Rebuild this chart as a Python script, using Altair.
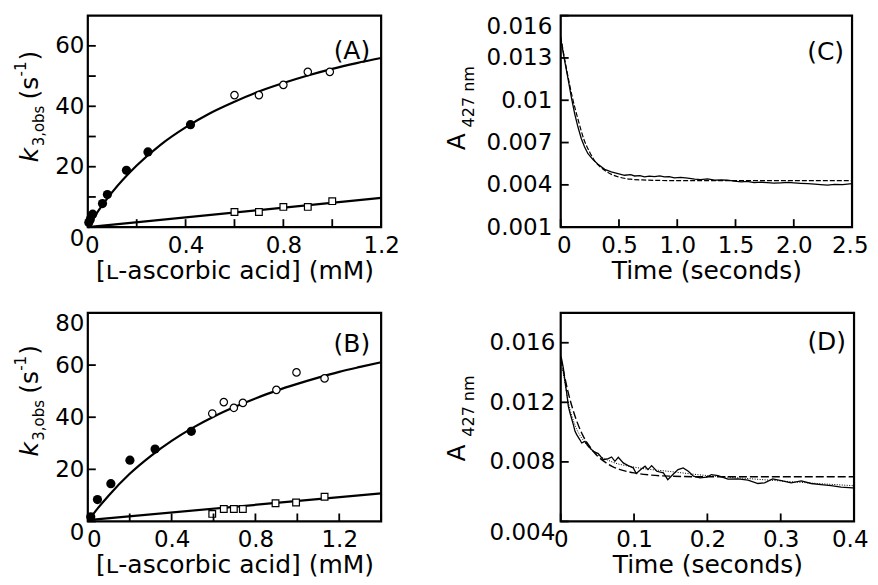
import altair as alt
import pandas as pd

FONT = "DejaVu Sans"

# ---------------- Panel A ----------------
a_filled_x = [0.004, 0.01, 0.02, 0.06, 0.08, 0.158, 0.246, 0.42]
a_filled_y = [1.5, 2.5, 4.3, 7.8, 10.8, 18.8, 24.9, 33.9]
a_open_x = [0.60, 0.70, 0.80, 0.90, 0.99]
a_open_y = [43.7, 43.7, 47.1, 51.4, 51.4]
a_sq_x = [0.60, 0.70, 0.80, 0.90, 1.00]
a_sq_y = [5.0, 5.0, 6.7, 6.7, 8.6]
a_fit_x = [0, 0.05, 0.1, 0.2, 0.3, 0.4, 0.5, 0.6, 0.7, 0.8, 0.9, 1.0, 1.1, 1.2]
a_fit_y = [0, 6.2, 11.6, 20.4, 27.4, 33.0, 37.7, 41.5, 44.9, 47.7, 50.2, 52.4, 54.3, 56.0]
a_line_x = [0, 1.2]
a_line_y = [0, 9.7]
a_xticks = [0, 0.2, 0.4, 0.6, 0.8, 1.0, 1.2]
a_yticks = [0, 10, 20, 30, 40, 50, 60]

# ---------------- Panel B ----------------
b_filled_x = [0.014, 0.046, 0.110, 0.201, 0.321, 0.494]
b_filled_y = [1.8, 8.4, 14.5, 23.5, 27.8, 34.6]
b_open_x = [0.594, 0.649, 0.697, 0.74, 0.90, 0.996, 1.13]
b_open_y = [41.4, 45.8, 43.6, 45.5, 50.5, 57.2, 54.9]
b_sq_x = [0.594, 0.649, 0.697, 0.74, 0.896, 0.994, 1.13]
b_sq_y = [2.9, 4.8, 4.8, 4.8, 7.0, 7.3, 9.5]
b_fit_x = [0, 0.05, 0.1, 0.2, 0.3, 0.4, 0.5, 0.6, 0.7, 0.8, 0.9, 1.0, 1.1, 1.2, 1.3, 1.4]
b_fit_y = [0, 5.3, 10.0, 18.3, 25.1, 30.9, 35.9, 40.2, 43.9, 47.2, 50.2, 52.8, 55.2, 57.4, 59.3, 61.1]
b_line_x = [0, 1.4]
b_line_y = [0.5, 10.8]
b_xticks = [0, 0.2, 0.4, 0.6, 0.8, 1.0, 1.2, 1.4]
b_yticks = [0, 20, 40, 60, 80]

# ---------------- Panel C ----------------
c_t = [0, 0.034, 0.063, 0.091, 0.12, 0.148, 0.177, 0.205, 0.234, 0.277, 0.32, 0.377,
       0.434, 0.491, 0.548, 0.60, 0.634, 0.68, 0.719, 0.76, 0.805, 0.85, 0.89, 0.93,
       0.976, 1.03, 1.09, 1.15, 1.2, 1.26, 1.32, 1.38, 1.43, 1.49, 1.55, 1.6, 1.66,
       1.72, 1.77, 1.83, 1.89, 1.95, 2.0, 2.06, 2.12, 2.18, 2.23, 2.29, 2.35, 2.42, 2.5]
c_obs = [0.01435, 0.0128, 0.01152, 0.01022, 0.00904, 0.0081, 0.00727, 0.00668, 0.00621,
         0.00579, 0.00546, 0.0051, 0.00492, 0.0048, 0.00468, 0.00472, 0.00463, 0.00466,
         0.00456, 0.00462, 0.00458, 0.00463, 0.00456, 0.00459, 0.00449, 0.00453, 0.00447,
         0.00441, 0.00437, 0.00442, 0.00433, 0.00436, 0.00433, 0.00426, 0.00421, 0.00424,
         0.00416, 0.00419, 0.00416, 0.00412, 0.00414, 0.00417, 0.00414, 0.00411, 0.00409,
         0.00405, 0.00402, 0.00398, 0.00404, 0.00401, 0.00409]
c_fit_t = [0, 0.05, 0.1, 0.15, 0.2, 0.25, 0.3, 0.35, 0.4, 0.5, 0.6, 0.7, 0.8, 1.0, 1.25, 1.5, 2.0, 2.5]
c_fit = [0.0145, 0.0122, 0.0102, 0.0086, 0.0072, 0.0063, 0.0056, 0.0052, 0.0049, 0.00455,
         0.0044, 0.00435, 0.00432, 0.0043, 0.0043, 0.0043, 0.0043, 0.0043]
c_xticks = [0, 0.5, 1.0, 1.5, 2.0, 2.5]
c_yticks = [0.001, 0.004, 0.007, 0.01, 0.013, 0.016]

# ---------------- Panel D ----------------
d_t = [0, 0.001, 0.0036, 0.0059, 0.0082, 0.0104, 0.0127, 0.0172, 0.0195, 0.0218, 0.026,
       0.0286, 0.033, 0.0376, 0.0444, 0.0512, 0.058, 0.0649, 0.0694, 0.0739, 0.0785,
       0.0853, 0.092, 0.0989, 0.103, 0.11, 0.115, 0.119, 0.124, 0.131, 0.14, 0.146, 0.153,
       0.16, 0.167, 0.174, 0.181, 0.19, 0.199, 0.2054, 0.2145, 0.228, 0.2418, 0.2554,
       0.269, 0.278, 0.289, 0.3007, 0.3143, 0.328, 0.3415, 0.355, 0.3687, 0.3823, 0.398, 0.4]
d_obs = [0.0151, 0.01496, 0.01429, 0.0134, 0.01262, 0.01173, 0.01128, 0.0105, 0.01005,
         0.00983, 0.0095, 0.00927, 0.00938, 0.00905, 0.00871, 0.00856, 0.00815, 0.00822,
         0.00833, 0.00804, 0.00831, 0.00793, 0.00775, 0.0076, 0.00722, 0.00753, 0.00771,
         0.00748, 0.00775, 0.00737, 0.00726, 0.00681, 0.00715, 0.00748, 0.0076, 0.00737,
         0.00704, 0.00693, 0.00697, 0.00715, 0.00708, 0.00685, 0.00686, 0.00677, 0.00655,
         0.00659, 0.00686, 0.00675, 0.00659, 0.00673, 0.00655, 0.00648, 0.00641, 0.0063,
         0.00626, 0.00624]
d_dot_t = [0, 0.005, 0.01, 0.02, 0.03, 0.04, 0.05, 0.07, 0.1, 0.15, 0.2, 0.25, 0.3, 0.35, 0.4]
d_dot = [0.0150, 0.0135, 0.0121, 0.0104, 0.0095, 0.0089, 0.0085, 0.0080, 0.00765, 0.00735,
         0.00708, 0.0069, 0.00672, 0.00655, 0.0064]
d_dash_t = [0, 0.005, 0.01, 0.02, 0.03, 0.04, 0.05, 0.06, 0.07, 0.08, 0.1, 0.12, 0.15, 0.2, 0.3, 0.4]
d_dash = [0.0150, 0.0138, 0.0127, 0.0110, 0.0098, 0.0090, 0.0084, 0.0080, 0.0077, 0.0075,
          0.00726, 0.00713, 0.00704, 0.0070, 0.0070, 0.0070]
d_xticks = [0, 0.1, 0.2, 0.3, 0.4]
d_yticks = [0.004, 0.008, 0.012, 0.016]

TICK = 8


def df(x, y):
    return pd.DataFrame({"x": x, "y": y})


def enc(xdom, ydom, xaxis, yaxis):
    return dict(
        x=alt.X("x:Q", scale=alt.Scale(domain=xdom, nice=False, zero=False), axis=xaxis),
        y=alt.Y("y:Q", scale=alt.Scale(domain=ydom, nice=False, zero=False), axis=yaxis),
    )


def tick_layers(xt, yt, xdom, ydom, xaxis, yaxis, h):
    xs = alt.Scale(domain=xdom, nice=False, zero=False)
    ys = alt.Scale(domain=ydom, nice=False, zero=False)
    xr = alt.Chart(pd.DataFrame({"x": xt})).mark_rule(color="black", strokeWidth=1.8).encode(
        x=alt.X("x:Q", scale=xs, axis=xaxis), y=alt.value(h - TICK), y2=alt.value(h))
    yr = alt.Chart(pd.DataFrame({"y": yt})).mark_rule(color="black", strokeWidth=1.8).encode(
        y=alt.Y("y:Q", scale=ys, axis=yaxis), x=alt.value(0), x2=alt.value(TICK))
    return [xr, yr]


ONE = alt.Data(values=[{"a": 1}])


def txt(s, x, y, size, italic=False, angle=270, align="left", baseline="alphabetic"):
    return alt.Chart(ONE).mark_text(
        text=s, font=FONT, fontSize=size, fontStyle="italic" if italic else "normal",
        angle=angle, align=align, baseline=baseline, color="black"
    ).encode(x=alt.value(x), y=alt.value(y))


def k_title(dy):
    return [
        txt("k", -50, 147 + dy, 25, italic=True),
        txt("3,obs", -44, 131 + dy, 15),
        txt("(s", -50, 84 + dy, 25),
        txt("-1", -62, 61 + dy, 15),
        txt(")", -50, 45 + dy, 25),
    ]


def a_title(y0, y1):
    return [
        txt("A", -96, y0, 25),
        txt("427 nm", -87, y1, 16),
    ]


def kin_panel(w, h, xdom, ydom, xaxis, yaxis, xt, yt, fx, fy, ox, oy, sqx, sqy, cx, cy, lx, ly,
              label, ly_lab, dy):
    e = enc(xdom, ydom, xaxis, yaxis)
    base = [
        alt.Chart(df(cx, cy)).mark_line(color="black", strokeWidth=2.2, interpolate="monotone").encode(**e),
        alt.Chart(df(lx, ly)).mark_line(color="black", strokeWidth=2.2).encode(**e),
        alt.Chart(df(fx, fy)).mark_circle(size=85, color="black", opacity=1).encode(**e),
        alt.Chart(df(ox, oy)).mark_point(shape="circle", size=55, filled=True, fill="white",
                                          stroke="black", strokeWidth=1.2, opacity=1).encode(**e),
        alt.Chart(df(sqx, sqy)).mark_point(shape="square", size=45, filled=True, fill="white",
                                            stroke="black", strokeWidth=1.2, opacity=1).encode(**e),
        txt(label, w - 11, ly_lab, 25, angle=0, align="right", baseline="middle"),
    ]
    base += tick_layers(xt, yt, xdom, ydom, xaxis, yaxis, h)
    return alt.layer(*(base + k_title(dy))).properties(width=w, height=h)


def cond(test, yes, no):
    return {"condition": {"test": test, "value": yes}, "value": no}


XT = "[ʟ-ascorbic acid] (mM)"

ax_a_x = alt.Axis(values=a_xticks, title=XT,
                  labelExpr="round(datum.value*5) % 2 == 0 ? format(datum.value, '~g') : ''",
                  labelOffset=cond("datum.value == 0", 4, 0))
ax_a_y = alt.Axis(values=a_yticks, title=None,
                  labelExpr="datum.value % 20 == 0 ? format(datum.value, 'd') : ''",
                  labelBaseline=cond("datum.value == 0", "top", "middle"))
ax_b_x = alt.Axis(values=b_xticks, title=XT,
                  labelExpr="(round(datum.value*5) % 2 == 0 && datum.value < 1.3) ? format(datum.value, '~g') : ''",
                  labelOffset=cond("datum.value == 0", 6, 0))
ax_b_y = alt.Axis(values=b_yticks, title=None,
                  labelExpr="format(datum.value, 'd')",
                  labelBaseline=cond("datum.value == 0 || datum.value == 80", "top", "middle"))

A = kin_panel(294, 212, [0, 1.2], [0, 70], ax_a_x, ax_a_y, a_xticks, a_yticks,
              a_filled_x, a_filled_y, a_open_x, a_open_y, a_sq_x, a_sq_y,
              a_fit_x, a_fit_y, a_line_x, a_line_y, "(A)", 35, 0)
B = kin_panel(294, 209, [0, 1.4], [0, 80], ax_b_x, ax_b_y, b_xticks, b_yticks,
              b_filled_x, b_filled_y, b_open_x, b_open_y, b_sq_x, b_sq_y,
              b_fit_x, b_fit_y, b_line_x, b_line_y, "(B)", 31, -3)

ax_c_x = alt.Axis(values=c_xticks, title="Time (seconds)",
                  labelExpr="datum.value == 0 ? '0' : format(datum.value, '.1f')",
                  labelAlign=cond("datum.value > 2.4", "right", "center"),
                  labelOffset={"condition": [{"test": "datum.value > 2.4", "value": 16},
                                             {"test": "datum.value == 0", "value": 3}], "value": 0})
ax_c_y = alt.Axis(values=c_yticks, title=None, labelPadding=9,
                  labelExpr="format(datum.value, '~g')",
                  labelBaseline=cond("datum.value > 0.0155", "top", "middle"))
ec = enc([0, 2.5], [0.001, 0.016], ax_c_x, ax_c_y)
C = alt.layer(
    alt.Chart(df(c_t, c_obs)).mark_line(color="black", strokeWidth=1.3).encode(**ec),
    alt.Chart(df(c_fit_t, c_fit)).mark_line(color="black", strokeWidth=1.2, strokeDash=[5, 2],
                                            interpolate="monotone").encode(**ec),
    txt("(C)", 292 - 8, 36, 25, angle=0, align="right", baseline="middle"),
    *tick_layers(c_xticks, c_yticks, [0, 2.5], [0.001, 0.016], ax_c_x, ax_c_y, 212),
    *a_title(135, 112),
).properties(width=292, height=212)

ax_d_x = alt.Axis(values=d_xticks, title="Time (seconds)",
                  labelExpr="format(datum.value, '~g')",
                  labelAlign=cond("datum.value > 0.39", "right", "center"),
                  labelOffset=cond("datum.value > 0.39", 14, 0))
ax_d_y = alt.Axis(values=d_yticks, title=None, labelPadding=6,
                  labelExpr="format(datum.value, '~g')",
                  labelBaseline=cond("datum.value < 0.0045", "top", "middle"))
ed = enc([0, 0.4], [0.004, 0.018], ax_d_x, ax_d_y)
D = alt.layer(
    alt.Chart(df(d_dash_t, d_dash)).mark_line(color="black", strokeWidth=1.4, strokeDash=[8, 3],
                                              interpolate="monotone").encode(**ed),
    alt.Chart(df(d_dot_t, d_dot)).mark_line(color="black", strokeWidth=1.0, strokeDash=[1, 1.5],
                                            interpolate="monotone").encode(**ed),
    alt.Chart(df(d_t, d_obs)).mark_line(color="black", strokeWidth=1.3).encode(**ed),
    txt("(D)", 294 - 8, 29, 25, angle=0, align="right", baseline="middle"),
    *tick_layers(d_xticks, d_yticks, [0, 0.4], [0.004, 0.018], ax_d_x, ax_d_y, 209),
    *a_title(149, 124),
).properties(width=294, height=209)

chart = alt.concat(A, C, B, D, columns=2, spacing={"row": 86, "column": 180}, bounds="flush").properties(
    padding={"left": 4, "top": 5, "right": 0, "bottom": 0}
).configure(font=FONT).configure_view(
    stroke="black", strokeWidth=2.2
).configure_axis(
    domain=False, grid=False, ticks=False, tickSize=0, offset=0, labelFlush=False,
    labelFont=FONT, labelFontSize=23, labelColor="black", labelPadding=4,
    titleFont=FONT, titleFontSize=25, titleColor="black", titleFontWeight="normal", titlePadding=1,
).configure_axisX(labelPadding=7)

chart.save("out.html", embed_options={"renderer": "svg", "actions": False})
